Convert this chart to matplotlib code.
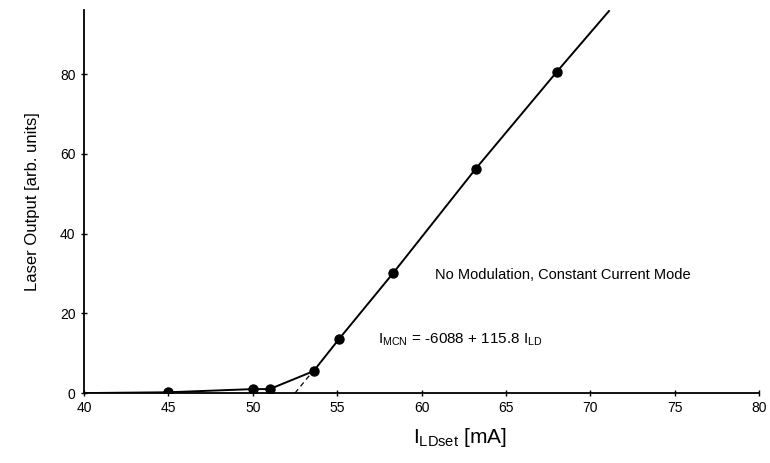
import matplotlib.pyplot as plt

plt.rcParams['font.family'] = ['Liberation Sans', 'DejaVu Sans']
plt.rcParams['mathtext.fontset'] = 'custom'
plt.rcParams['mathtext.rm'] = 'Liberation Sans'

# measured points
current = [45.0, 50.0, 51.0, 53.6, 55.1, 58.3, 63.2, 68.0]
output = [0.2, 1.0, 1.0, 5.5, 13.5, 30.0, 56.2, 80.5]

# linear fit above threshold
fit_x0 = 52.5
fit_slope = 5.15
fit_xend = 71.1

xticks = [40, 45, 50, 55, 60, 65, 70, 75, 80]
yticks = [0, 20, 40, 60, 80]

fig = plt.figure(figsize=(7.7, 4.63), dpi=100)
ax = fig.add_axes([0.109, 0.151, 0.877, 0.827])

# dashed extrapolation down to threshold
ax.plot([fit_x0, current[3]], [0, fit_slope * (current[3] - fit_x0)],
        color='black', lw=0.9, ls=(0, (4, 3)))
# solid fit continuation past last point
ax.plot([current[-1], fit_xend], [output[-1], fit_slope * (fit_xend - fit_x0)],
        color='black', lw=1.4)
# baseline from axis start to first point
ax.plot([40, current[0]], [0, output[0]], color='black', lw=1.4)
ax.plot(current, output, color='black', lw=1.4, marker='o', ms=6.5)

ax.set_xlim(40, 80)
ax.set_ylim(0, 96)
ax.set_xticks(xticks)
ax.set_yticks(yticks)
ax.spines['top'].set_visible(False)
ax.spines['right'].set_visible(False)
ax.spines['left'].set_linewidth(1.3)
ax.spines['bottom'].set_linewidth(1.3)
ax.tick_params(direction='inout', length=5, width=1, labelsize=10)

ax.text(60.8, 29.7, 'No Modulation, Constant Current Mode', fontsize=10.5,
        va='center', ha='left')
ax.text(57.4, 13.3, r'$\mathregular{I_{MCN}}$ = -6088 + 115.8 $\mathregular{I_{LD}}$',
        fontsize=11, va='center', ha='left')

ax.set_ylabel('Laser Output [arb. units]', fontsize=12)
ax.yaxis.set_label_coords(-0.065, 0.5)
ax.set_xlabel(r'$\mathregular{I_{LDset}}$ [mA]', fontsize=15)
ax.xaxis.set_label_coords(0.557, -0.085)

fig.savefig('out.png', dpi=100)
